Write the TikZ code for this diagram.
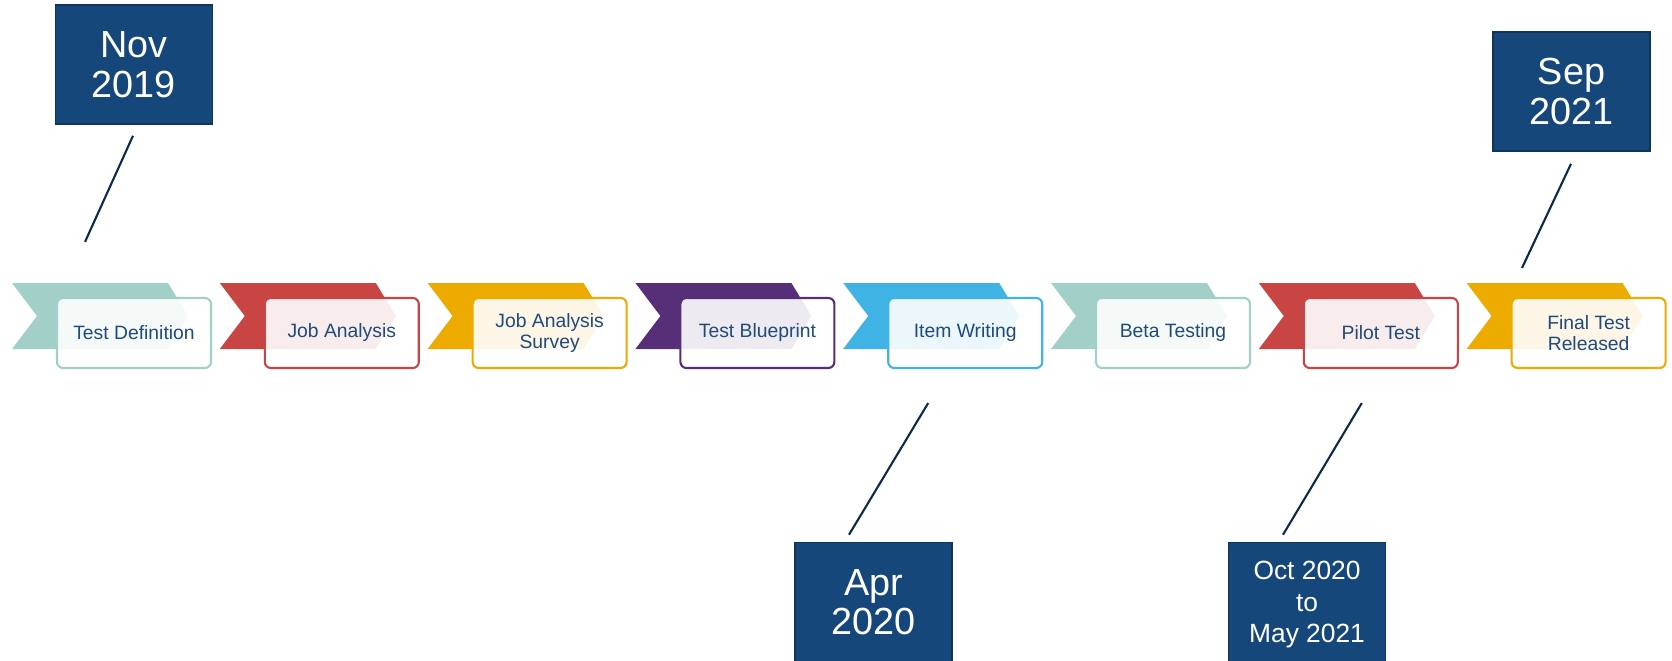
\documentclass[tikz,border=0pt]{standalone}
\usepackage{fontspec}
\setmainfont{Liberation Sans}
\usetikzlibrary{calc}

\definecolor{stepteal}{HTML}{A2D0C9}
\definecolor{stepred}{HTML}{C84543}
\definecolor{stepgold}{HTML}{EDAB00}
\definecolor{steppurple}{HTML}{572F78}
\definecolor{stepblue}{HTML}{3FB3E3}
\definecolor{datefill}{HTML}{15477A}
\definecolor{dateline}{HTML}{0F355C}
\definecolor{labelblue}{HTML}{1F4A7C}
\definecolor{leadcol}{HTML}{0E2A4A}

\tikzset{
  stepbox/.style={draw=#1, line width=1.2pt, fill=white, fill opacity=0.9,
    text opacity=1, text=labelblue, rounded corners=0.12cm, inner sep=0pt,
    minimum width=3.08cm, minimum height=1.4cm, align=center,
    font=\fontsize{11}{11.5}\selectfont},
  datebox/.style={draw=dateline, line width=0.9pt, fill=datefill, text=white,
    inner sep=0pt, minimum width=3.14cm, minimum height=2.38cm, align=center,
    font=\fontsize{21.5}{22.5}\selectfont},
  leader/.style={draw=leadcol, line width=1.2pt}
}

\begin{document}
\begin{tikzpicture}[x=0.02cm,y=0.02cm]
  \fill[white] (0,0) rectangle (1672,660);
  \useasboundingbox (0,0) rectangle (1672,660);
  % one chevron and one label box per step, 207.8 apart
  \foreach \n/\c/\t [count=\k from 0] in {1/stepteal/Test Definition,
      2/stepred/Job Analysis, 3/stepgold/{Job Analysis\\Survey},
      4/steppurple/Test Blueprint, 5/stepblue/Item Writing,
      6/stepteal/Beta Testing, 7/stepred/Pilot Test,
      8/stepgold/{Final Test\\Released}} {
    \def\xo{12+207.8*\k}
    \fill[\c] ({\xo},377) -- ({\xo+156},377) -- ({\xo+176},344)
      -- ({\xo+156},311) -- ({\xo},311) -- ({\xo+25},344) -- cycle;
    \node[stepbox=\c] (s\n) at ({\xo+122},327) {\t};
  }
  % dates
  \node[datebox] (d1) at (134,595.5) {Nov\\2019};
  \node[datebox] (d2) at (873.5,58) {Apr\\2020};
  \node[datebox, font=\fontsize{15}{18}\selectfont, text depth=0pt] (d3) at (1307,58) {Oct 2020\\to\\May 2021};
  \node[datebox] (d4) at (1571.5,568.5) {Sep\\2021};
  % leader lines, they stop short of both ends
  \draw[leader] ($(d1.south)+(-1,-11)$) -- ($(s1.north)+(-49,55)$);
  \draw[leader] ($(s5.south)+(-37,-34)$) -- ($(d2.north)+(-24.5,7)$);
  \draw[leader] ($(s7.south)+(-19,-34)$) -- ($(d3.north)+(-24,7)$);
  \draw[leader] ($(d4.south)+(-0.5,-12)$) -- ($(s8.north)+(-66.6,29)$);
\end{tikzpicture}
\end{document}
